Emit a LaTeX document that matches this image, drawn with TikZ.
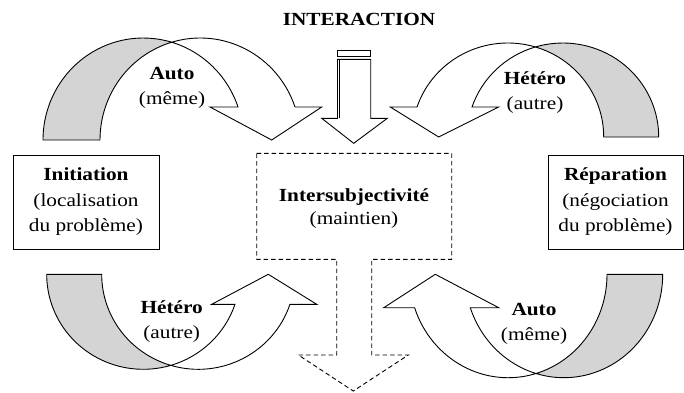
\documentclass[tikz,border=0pt]{standalone}
\usepackage{fontspec}
\setmainfont{Liberation Serif}[FakeStretch=1.15]
\usetikzlibrary{calc}
\begin{document}
\begin{tikzpicture}[x=1pt,y=-1pt,
  lw/.style={line width=0.9pt},
  band/.style={lw,draw=black,fill=black!17,line join=round},
  front/.style={lw,draw=black,fill=white,line join=miter},
  txt/.style={align=center,inner sep=0pt,font=\fontsize{18.5}{25}\selectfont},
  boxnode/.style={draw,lw,align=center,font=\fontsize{18.5}{25.5}\selectfont},
  dsh/.style={lw,dash pattern=on 4.5pt off 3pt}]
\useasboundingbox (0,0) rectangle (684,392);

% title
\node[txt,font=\fontsize{18.5}{22}\selectfont\bfseries] (title) at (359,19) {INTERACTION};

% top centre arrow
\draw[lw] (337.7,50.7) rectangle (370.7,56.7);
\draw[front] (337.5,59.3) -- (370.7,59.3) -- (370.7,118.3) -- (387.3,118.3)
  -- (353.7,143.3) -- (321.7,118.3) -- (337.5,118.3) -- cycle;
\draw[line width=0.6pt] (339.6,59.3) -- (339.6,118.3);

% central dashed shape
\draw[dsh] (256.7,153.3) -- (451.7,153.3) -- (451.7,259.3) -- (371.7,259.3)
  -- (371.7,355) -- (408.3,355) -- (353.3,391) -- (298.3,355) -- (336.7,355)
  -- (336.7,259.3) -- (256.7,259.3) -- cycle;
\node[txt,font=\fontsize{18.5}{23}\selectfont] (inter) at (354,208.5)
  {\textbf{Intersubjectivité}\\(maintien)};

% boxes
\node[boxnode,minimum width=146pt,minimum height=94pt] (init) at (86,202)
  {\textbf{Initiation}\\(localisation\\du problème)};
\node[boxnode,minimum width=135pt,minimum height=94pt] (rep) at (615.5,202)
  {\textbf{Réparation}\\(négociation\\du problème)};

% ---- top-left arrow (Auto)
\coordinate (tlA) at (143.2,140);
\coordinate (tlB) at (200.2,140);
\draw[band] (tlA) ++(-180:100.2 and 102) arc[start angle=-180,end angle=-73.48,x radius=100.2,y radius=102]
  -- ($(tlB)+(-106.52:100.2 and 102)$) arc[start angle=-106.52,end angle=-180,x radius=100.2,y radius=102] -- cycle;
\draw[front] (tlB) ++(-106.52:100.2 and 102) arc[start angle=-106.52,end angle=-18.88,x radius=100.2,y radius=102]
  -- (321.7,107) -- (271.7,140) -- (210,107)
  -- ($(tlA)+(-18.88:100.2 and 102)$) arc[start angle=-18.88,end angle=-73.48,x radius=100.2,y radius=102] -- cycle;
\node[txt] (tl) at (172,87.5) {\textbf{Auto}\\(même)};

% ---- top-right arrow (Hétéro)
\coordinate (trA) at (562.85,137);
\coordinate (trB) at (507.85,137);
\draw[band] (trA) ++(0:95.85 and 94) arc[start angle=0,end angle=-106.67,x radius=95.85,y radius=94]
  -- ($(trB)+(-73.33:95.85 and 94)$) arc[start angle=-73.33,end angle=0,x radius=95.85,y radius=94] -- cycle;
\draw[front] (trB) ++(-73.33:95.85 and 94) arc[start angle=-73.33,end angle=-161.39,x radius=95.85,y radius=94]
  -- (390.3,107) -- (438.7,137) -- (498.7,107)
  -- ($(trA)+(-161.39:95.85 and 94)$) arc[start angle=-161.39,end angle=-106.67,x radius=95.85,y radius=94] -- cycle;
\node[txt] (tr) at (535,92.5) {\textbf{Hétéro}\\(autre)};

% ---- bottom-left arrow (Hétéro)
\coordinate (blA) at (143.3,274.3);
\coordinate (blB) at (198.3,274.3);
\draw[band] (blA) ++(180:96.6 and 95) arc[start angle=180,end angle=73.46,x radius=96.6,y radius=95]
  -- ($(blB)+(106.54:96.6 and 95)$) arc[start angle=106.54,end angle=180,x radius=96.6,y radius=95] -- cycle;
\draw[front] (blB) ++(106.54:96.6 and 95) arc[start angle=106.54,end angle=18.41,x radius=96.6,y radius=95]
  -- (316.7,304.3) -- (268.3,274.3) -- (211.7,304.3)
  -- ($(blA)+(18.41:96.6 and 95)$) arc[start angle=18.41,end angle=73.46,x radius=96.6,y radius=95] -- cycle;
\node[txt] (bl) at (171.7,322) {\textbf{Hétéro}\\(autre)};

% ---- bottom-right arrow (Auto)
\coordinate (brA) at (563.85,274.3);
\coordinate (brB) at (508.15,274.3);
\draw[band] (brA) ++(0:98.85 and 103.4) arc[start angle=0,end angle=106.36,x radius=98.85,y radius=103.4]
  -- ($(brB)+(73.64:98.85 and 103.4)$) arc[start angle=73.64,end angle=0,x radius=98.85,y radius=103.4] -- cycle;
\draw[front] (brB) ++(73.64:98.85 and 103.4) arc[start angle=73.64,end angle=161.16,x radius=98.85,y radius=103.4]
  -- (383.7,307.7) -- (435.3,274.3) -- (498.7,307.7)
  -- ($(brA)+(161.16:98.85 and 103.4)$) arc[start angle=161.16,end angle=106.36,x radius=98.85,y radius=103.4] -- cycle;
\node[txt] (br) at (534,323.5) {\textbf{Auto}\\(même)};
\end{tikzpicture}
\end{document}
